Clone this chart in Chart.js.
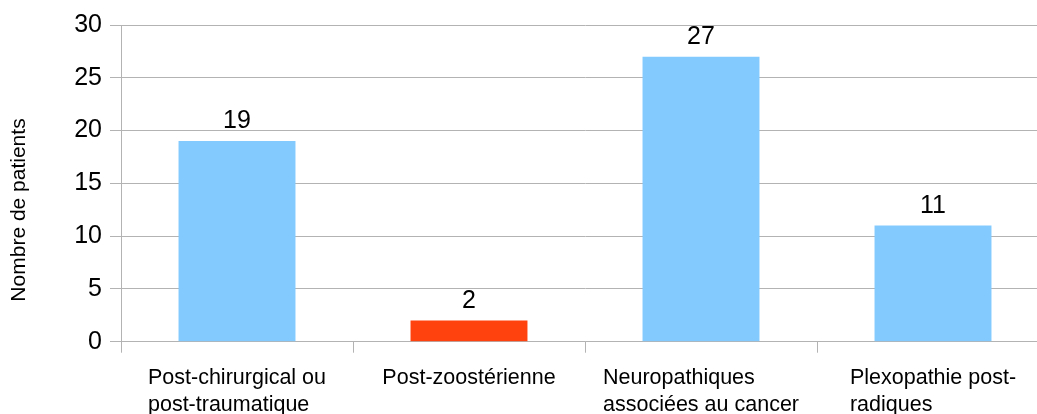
<!DOCTYPE html>
<html>
<head>
<meta charset="utf-8">
<script src="https://cdn.jsdelivr.net/npm/chart.js@4/dist/chart.umd.min.js"></script>
<style>
  html, body { margin: 0; padding: 0; background: #fff; overflow: hidden; width: 1037px; height: 414px; }
  #wrap { width: 1037px; height: 414px; overflow: hidden; }
  canvas { display: block; }
</style>
</head>
<body>
<div id="wrap"><canvas id="c" width="1060" height="414"></canvas></div>
<script>
const categories = [
  ["Post-chirurgical ou", "post-traumatique"],
  ["Post-zoostérienne"],
  ["Neuropathiques", "associées au cancer"],
  ["Plexopathie post-", "radiques"]
];
const patients = [19, 2, 27, 11];
const barColors = ["#83CAFF", "#FF420E", "#83CAFF", "#83CAFF"];
const yTitle = "Nombre de patients";
const yMin = 0, yMax = 30, yStep = 5;

const FONT = "'Liberation Sans', Arial, sans-serif";
const GRID = "#b3b3b3";

const drawPlugin = {
  id: 'custom',
  afterDraw(chart) {
    const ctx = chart.ctx;
    const meta = chart.getDatasetMeta(0);
    // value labels
    ctx.save();
    ctx.fillStyle = '#000';
    ctx.font = "25px " + FONT;
    ctx.textAlign = 'center';
    ctx.textBaseline = 'alphabetic';
    meta.data.forEach((bar, i) => {
      ctx.fillText(String(patients[i]), bar.x, bar.y - 13);
    });
    // category labels: left-aligned block centered on category
    ctx.font = "21.5px " + FONT;
    ctx.textAlign = 'left';
    const xs = chart.scales.x;
    categories.forEach((lines, i) => {
      const cx = xs.getPixelForValue(i);
      let w = 0;
      lines.forEach(l => { w = Math.max(w, ctx.measureText(l).width); });
      const left = cx - w / 2;
      lines.forEach((l, j) => {
        ctx.fillText(l, left, 383.5 + j * 27);
      });
    });
    // y title
    ctx.font = "21px " + FONT;
    ctx.textAlign = 'center';
    ctx.textBaseline = 'middle';
    ctx.translate(19, 210);
    ctx.rotate(-Math.PI / 2);
    ctx.fillText(yTitle, 0, 0);
    ctx.restore();
  }
};

new Chart(document.getElementById('c'), {
  type: 'bar',
  data: {
    labels: categories,
    datasets: [{
      data: patients,
      backgroundColor: barColors,
      borderWidth: 0,
      categoryPercentage: 1.0,
      barPercentage: 0.504
    }]
  },
  options: {
    responsive: false,
    animation: false,
    devicePixelRatio: 1,
    layout: { padding: { top: 25, right: 11, left: 0, bottom: 0 } },
    plugins: { legend: { display: false }, tooltip: { enabled: false } },
    scales: {
      x: {
        offset: true,
        grid: { display: true, drawOnChartArea: false, drawTicks: true, tickLength: 11, color: GRID, lineWidth: 1 },
        border: { display: true, color: GRID, width: 1 },
        ticks: { display: false },
        afterFit(scale) { scale.height = 72.3; }
      },
      y: {
        min: yMin, max: yMax,
        ticks: { stepSize: yStep, color: '#000', padding: 8, font: { family: FONT, size: 25 } },
        grid: { color: GRID, lineWidth: 1, drawTicks: true, tickLength: 11 },
        border: { display: true, color: GRID, width: 1 },
        title: { display: false },
        afterFit(scale) { scale.width = 121; }
      }
    }
  },
  plugins: [drawPlugin]
});
</script>
</body>
</html>
